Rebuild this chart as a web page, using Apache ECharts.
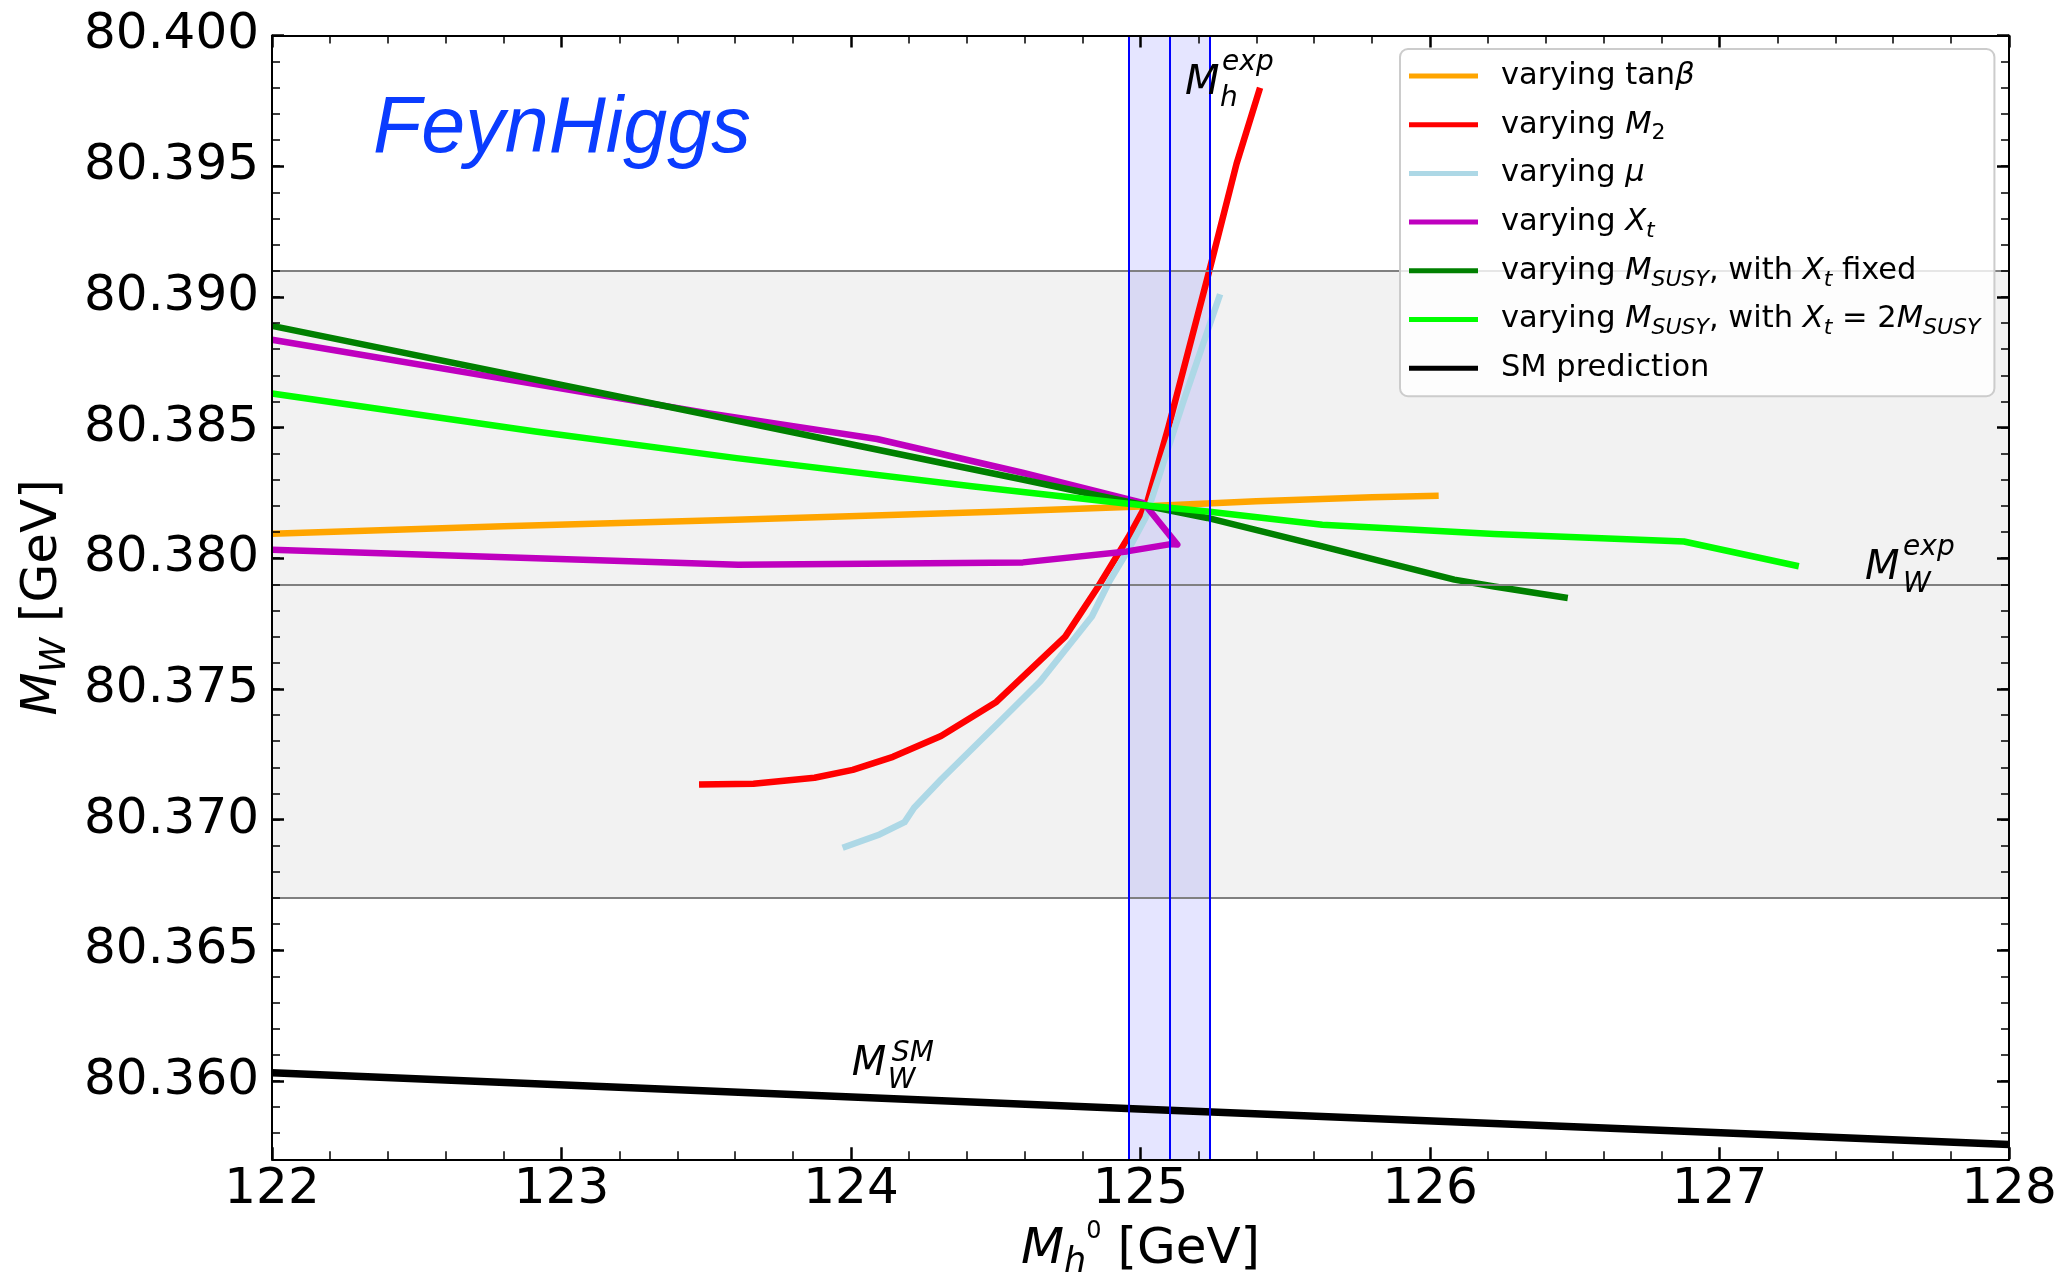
<!DOCTYPE html>
<html><head><meta charset="utf-8">
<script src="https://cdn.jsdelivr.net/npm/echarts@6/dist/echarts.min.js"></script>
<style>html,body{margin:0;padding:0;background:#fff}#c{width:2063px;height:1275px}</style>
</head><body><div id="c"></div>
<script>
// ---------- data ----------
const xTicks = [122, 123, 124, 125, 126, 127, 128];
const yTicks = [80.360, 80.365, 80.370, 80.375, 80.380, 80.385, 80.390, 80.395, 80.400];
const mwExp = [80.367, 80.379, 80.391];      // lower edge, central, upper edge
const mhExp = [124.96, 125.10, 125.24];      // lower edge, central, upper edge

const tanbData = [[122.0,80.38094],[122.8,80.38122],[123.6,80.38147],[124.5,80.38178],[125.0,80.38198],[125.4,80.38218],[125.8,80.38233],[126.03,80.38239]];
const m2Data = [[123.475,80.37134],[123.663,80.37137],[123.874,80.3716],[124.006,80.3719],[124.145,80.3724],[124.311,80.3732],[124.502,80.3745],[124.740,80.3770],[124.853,80.3789],[124.958,80.3808],[125.022,80.3821],[125.096,80.3850],[125.240,80.3911],[125.332,80.3951],[125.413,80.3980]];
const muData = [[123.971,80.36892],[124.099,80.36943],[124.185,80.3699],[124.218,80.37045],[124.311,80.37153],[124.515,80.37376],[124.654,80.37529],[124.832,80.37777],[124.892,80.37911],[124.958,80.38032],[125.017,80.38154],[125.148,80.3860],[125.275,80.3901]];
const xtData = [[122.0,80.38836],[123.505,80.38555],[124.090,80.38456],[124.596,80.38326],[125.011,80.38211],[125.127,80.38052],[125.104,80.38054],[124.953,80.38026],[124.594,80.37984],[123.610,80.37975],[122.0,80.38032]];
const msFixedData = [[122.0,80.38889],[123.505,80.38549],[124.596,80.38300],[125.033,80.38198],[125.231,80.38154],[125.628,80.38045],[126.084,80.37918],[126.222,80.37892],[126.476,80.37848]];
const ms2Data = [[122.0,80.38630],[122.910,80.38485],[123.605,80.38383],[124.417,80.38275],[124.933,80.38211],[125.231,80.38179],[125.628,80.38128],[126.222,80.38093],[126.877,80.38064],[127.274,80.37969]];
const smData = [[122.0,80.36031],[125.098,80.35888],[128.0,80.35757]];

const seriesNames = ['varying tanβ','varying M2','varying μ','varying Xt','varying MSUSY, with Xt fixed','varying MSUSY, with Xt = 2MSUSY','SM prediction'];
const seriesColors = ['#ffa500','#ff0000','#add8e6','#bf00bf','#008000','#00ff00','#000000'];
const seriesData = [tanbData, m2Data, muData, xtData, msFixedData, ms2Data, smData];

// annotation anchors (data coords)
const annFeyn = [122.349, 80.39640];
const annMh = [125.154, 80.39815];
const annMwExp = [127.503, 80.37960];
const annMwSM = [124.003, 80.36063];

// ---------- chart ----------
const FONT = 'DejaVu Sans';
const legendRich = {
  'varying tanβ': '{f|varying tan}{i|β}',
  'varying M2': '{f|varying }{i|M}{sr|2}',
  'varying μ': '{f|varying }{i|μ}',
  'varying Xt': '{f|varying }{i|X}{s|t}',
  'varying MSUSY, with Xt fixed': '{f|varying }{i|M}{s|SUSY}{r|, with }{i|X}{s|t}{r| fixed}',
  'varying MSUSY, with Xt = 2MSUSY': '{f|varying }{i|M}{s|SUSY}{r|, with }{i|X}{s|t}{r| = 2}{i|M}{s|SUSY}',
  'SM prediction': '{f|SM prediction}'
};

const chart = echarts.init(document.getElementById('c'), null, {renderer: 'canvas'});

const axisBase = {
  type: 'value', z: 10,
  axisLine: {show: true, lineStyle: {color: '#000', width: 2}},
  splitLine: {show: false}
};
const minorX = {show: true, splitNumber: 5, length: 8, lineStyle: {color: '#000', width: 1.5}};

const lineSeries = seriesNames.map((n, k) => ({
  name: n, type: 'line', data: seriesData[k], symbol: 'none', z: 3 + k * 0.01,
  lineStyle: {color: seriesColors[k], width: k === 6 ? 7.5 : 6.5, cap: 'butt', join: 'round'},
  itemStyle: {color: seriesColors[k]},
  silent: true, animation: false
}));

const option = {
  animation: false,
  backgroundColor: '#ffffff',
  grid: {left: 272, right: 54, top: 35.5, bottom: 115.7, containLabel: false, outerBoundsMode: 'none'},
  xAxis: [
    Object.assign({}, axisBase, {
      position: 'bottom', min: 122, max: 128, interval: 1,
      axisTick: {show: true, inside: true, length: 12, lineStyle: {color: '#000', width: 2.5}},
      minorTick: minorX,
      axisLabel: {show: true, fontFamily: FONT, fontSize: 50, color: '#000', margin: 6,
        formatter: v => String(v)},
      name: '{i|M}{s|h}{ss|0} {r|[GeV]}', nameLocation: 'middle', nameGap: 49,
      nameTextStyle: {fontFamily: FONT, fontSize: 50, color: '#000', lineHeight: 60,
        rich: {
          i: {fontFamily: FONT, fontSize: 50, fontStyle: 'italic', lineHeight: 60},
          s: {fontFamily: FONT, fontSize: 35, fontStyle: 'italic', lineHeight: 40, verticalAlign: 'bottom'},
          ss: {fontFamily: FONT, fontSize: 24, lineHeight: 44, verticalAlign: 'top'},
          r: {fontFamily: FONT, fontSize: 50, lineHeight: 60}
        }}
    }),
    Object.assign({}, axisBase, {
      position: 'top', min: 122, max: 128, interval: 1,
      axisTick: {show: true, inside: true, length: 12, lineStyle: {color: '#000', width: 2.5}},
      minorTick: minorX,
      axisLabel: {show: false}
    })
  ],
  yAxis: [
    Object.assign({}, axisBase, {
      position: 'left', min: 80.357, max: 80.400,
      axisTick: {show: true, inside: true, length: 12, customValues: yTicks, lineStyle: {color: '#000', width: 2.5}},
      axisLabel: {show: true, customValues: yTicks, fontFamily: FONT, fontSize: 50, color: '#000', margin: 13,
        formatter: v => Number(v).toFixed(3)},
      name: '{i|M}{s|W} {r|[GeV]}', nameLocation: 'middle', nameRotate: 90, nameGap: 176,
      nameTextStyle: {fontFamily: FONT, fontSize: 50, color: '#000', lineHeight: 60,
        rich: {
          i: {fontFamily: FONT, fontSize: 50, fontStyle: 'italic', lineHeight: 60},
          s: {fontFamily: FONT, fontSize: 35, fontStyle: 'italic', lineHeight: 40, verticalAlign: 'bottom'},
          r: {fontFamily: FONT, fontSize: 50, lineHeight: 60}
        }}
    }),
    Object.assign({}, axisBase, {
      position: 'left', min: 80.357, max: 80.400, interval: 0.001,
      axisLine: {show: false},
      axisTick: {show: true, inside: true, length: 8, lineStyle: {color: '#000', width: 1.5}},
      axisLabel: {show: false}
    }),
    Object.assign({}, axisBase, {
      position: 'right', min: 80.357, max: 80.400,
      axisTick: {show: true, inside: true, length: 12, customValues: yTicks, lineStyle: {color: '#000', width: 2.5}},
      axisLabel: {show: false}
    }),
    Object.assign({}, axisBase, {
      position: 'right', min: 80.357, max: 80.400, interval: 0.001,
      axisLine: {show: false},
      axisTick: {show: true, inside: true, length: 8, lineStyle: {color: '#000', width: 1.5}},
      axisLabel: {show: false}
    })
  ],
  legend: {
    orient: 'vertical', left: 1400, top: 49, padding: [7, 14, 8, 9], z: 20,
    itemGap: 8.7, itemWidth: 69, itemHeight: 5, icon: 'rect',
    backgroundColor: 'rgba(255,255,255,0.8)', borderColor: '#cccccc', borderWidth: 2, borderRadius: 8,
    data: seriesNames,
    formatter: n => legendRich[n],
    textStyle: {fontFamily: FONT, fontSize: 30.5, color: '#000', lineHeight: 40,
      rich: {
        f: {fontFamily: FONT, fontSize: 30.5, color: '#000', lineHeight: 40, padding: [0, 0, 0, 18]},
        r: {fontFamily: FONT, fontSize: 30.5, color: '#000', lineHeight: 40},
        i: {fontFamily: FONT, fontSize: 30.5, color: '#000', fontStyle: 'italic', lineHeight: 40},
        s: {fontFamily: FONT, fontSize: 22, color: '#000', fontStyle: 'italic', lineHeight: 24, verticalAlign: 'bottom'},
        sr: {fontFamily: FONT, fontSize: 22, color: '#000', lineHeight: 24, verticalAlign: 'bottom'}
      }},
    selectedMode: false
  },
  series: [
    {
      name: 'bands', type: 'line', data: [], z: 1, silent: true,
      markArea: {
        silent: true,
        data: [
          [{yAxis: mwExp[0], itemStyle: {color: '#f2f2f2'}}, {yAxis: mwExp[2]}],
          [{xAxis: mhExp[0], itemStyle: {color: 'rgba(0,0,255,0.1)'}}, {xAxis: mhExp[2]}]
        ]
      },
      markLine: {
        silent: true, precision: 5, symbol: ['none', 'none'], label: {show: false},
        lineStyle: {color: '#808080', width: 2, type: 'solid'},
        data: mwExp.map(v => ({yAxis: v}))
      }
    },
    ...lineSeries,
    {
      name: 'vlines', type: 'line', data: [], z: 8, silent: true,
      markLine: {
        silent: true, precision: 5, symbol: ['none', 'none'], label: {show: false},
        lineStyle: {color: '#0000ff', width: 2, type: 'solid'},
        data: mhExp.map(v => ({xAxis: v}))
      }
    }
  ]
};
chart.setOption(option);

// ---------- annotations placed from data coordinates ----------
function px(p) { return chart.convertToPixel({xAxisIndex: 0, yAxisIndex: 0}, p); }
function txt(x, y, text, size, italic, fill, family) {
  return {type: 'text', x: x, y: y, z: 20, silent: true,
    style: {text: text, fontSize: size, fontFamily: family || FONT, fontStyle: italic ? 'italic' : 'normal',
      fill: fill || '#000', align: 'left', verticalAlign: 'middle'}};
}
const g = [];
const pf = px(annFeyn);
g.push(txt(pf[0], pf[1], 'FeynHiggs', 79, true, '#0a3cff', 'Liberation Sans'));
const ph = px(annMh);
g.push(txt(ph[0], ph[1], 'M', 40, true));
g.push(txt(ph[0] + 37, ph[1] - 21.5, 'exp', 28, true));
g.push(txt(ph[0] + 35, ph[1] + 15, 'h', 28, true));
const pw = px(annMwExp);
g.push(txt(pw[0], pw[1], 'M', 40, true));
g.push(txt(pw[0] + 38, pw[1] - 20.5, 'exp', 28, true));
g.push(txt(pw[0] + 38, pw[1] + 16, 'W', 28, true));
const ps = px(annMwSM);
g.push(txt(ps[0], ps[1], 'M', 40, true));
g.push(txt(ps[0] + 40, ps[1] - 11, 'SM', 28, true));
g.push(txt(ps[0] + 36, ps[1] + 16, 'W', 28, true));
chart.setOption({graphic: g});
</script></body></html>
